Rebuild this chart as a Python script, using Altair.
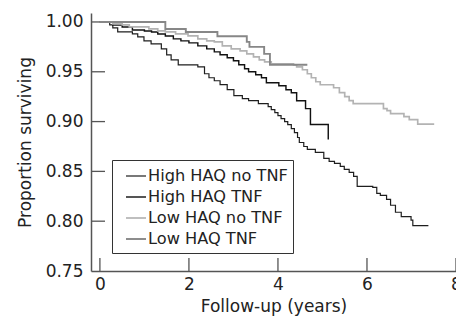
import altair as alt
import pandas as pd

# ---- data (time in years, proportion surviving) ----
groups = ["High HAQ no TNF", "High HAQ TNF", "Low HAQ no TNF", "Low HAQ TNF"]

hi_no_t = [0, 0.22, 0.29, 0.40, 0.73, 0.85, 0.99, 1.15, 1.38, 1.50, 1.60, 1.76, 2.20, 2.35, 2.45,
           2.57, 2.70, 2.86, 3.01, 3.20, 3.34, 3.56, 3.78, 3.85, 3.93, 4.00, 4.07, 4.15, 4.22,
           4.30, 4.37, 4.44, 4.48, 4.58, 4.66, 4.84, 5.03, 5.15, 5.27, 5.40, 5.49, 5.60, 5.70,
           5.78, 6.13, 6.22, 6.30, 6.44, 6.53, 6.64, 6.77, 6.99, 7.03, 7.38]
hi_no_s = [1.0, 0.997, 0.994, 0.990, 0.988, 0.985, 0.981, 0.978, 0.973, 0.967, 0.962, 0.957, 0.955,
           0.948, 0.944, 0.941, 0.937, 0.932, 0.926, 0.923, 0.921, 0.918, 0.915, 0.912, 0.909,
           0.906, 0.903, 0.900, 0.897, 0.893, 0.889, 0.884, 0.879, 0.875, 0.872, 0.869, 0.863,
           0.860, 0.858, 0.855, 0.852, 0.849, 0.845, 0.835, 0.834, 0.828, 0.826, 0.822, 0.816,
           0.809, 0.8045, 0.801, 0.7955, 0.7955]

hi_tnf_t = [0, 0.29, 0.50, 0.73, 1.00, 1.16, 1.30, 1.47, 1.65, 1.82, 2.00, 2.20, 2.40, 2.57, 2.70,
            2.86, 3.00, 3.12, 3.25, 3.34, 3.50, 3.63, 3.74, 4.02, 4.18, 4.30, 4.42, 4.62, 4.73, 5.13]
hi_tnf_s = [1.0, 0.997, 0.995, 0.992, 0.991, 0.990, 0.988, 0.986, 0.983, 0.981, 0.979, 0.976, 0.973,
            0.970, 0.967, 0.964, 0.961, 0.957, 0.953, 0.950, 0.947, 0.944, 0.939, 0.936, 0.932,
            0.929, 0.921, 0.913, 0.897, 0.882]

lo_no_t = [0, 0.29, 0.50, 0.66, 1.10, 1.30, 1.47, 1.70, 1.98, 2.20, 2.40, 2.57, 2.75, 2.95, 3.15,
           3.30, 3.45, 3.58, 3.70, 3.85, 4.35, 4.42, 4.55, 4.66, 4.75, 4.85, 4.95, 5.25, 5.38,
           5.50, 5.60, 5.69, 6.37, 6.45, 6.53, 6.83, 6.95, 7.14, 7.51]
lo_no_s = [1.0, 0.998, 0.997, 0.995, 0.993, 0.991, 0.990, 0.988, 0.986, 0.983, 0.981, 0.980, 0.976,
           0.973, 0.971, 0.968, 0.965, 0.962, 0.960, 0.958, 0.957, 0.955, 0.952, 0.948, 0.944,
           0.940, 0.937, 0.934, 0.929, 0.925, 0.921, 0.918, 0.913, 0.911, 0.908, 0.905, 0.902,
           0.8975, 0.8975]

lo_tnf_t = [0, 1.47, 1.93, 2.64, 3.30, 3.36, 3.69, 3.82, 4.66]
lo_tnf_s = [1.0, 0.993, 0.990, 0.9857, 0.980, 0.975, 0.968, 0.957, 0.957]

colors = ["#1e1e1e", "#111111", "#b3b3b3", "#878787"]
widths = [1.2, 1.9, 1.7, 1.7]

x_ticks = [0, 2, 4, 6, 8]
y_ticks = [0.75, 0.80, 0.85, 0.90, 0.95, 1.00]
y_tick_marks = [0.80, 0.85, 0.90, 0.95, 1.00]

rows = []
for g, ts, ss in zip(groups, [hi_no_t, hi_tnf_t, lo_no_t, lo_tnf_t],
                     [hi_no_s, hi_tnf_s, lo_no_s, lo_tnf_s]):
    for t, s in zip(ts, ss):
        rows.append({"group": g, "t": t, "s": s})
df = pd.DataFrame(rows)

W, H = 365, 258
AX = "#555555"
FONT = "DejaVu Sans"

x_scale = alt.Scale(domain=[-0.2, 8.0], nice=False, zero=False)
y_scale = alt.Scale(domain=[0.75, 1.009], nice=False, zero=False)

x_axis = alt.Axis(values=x_ticks, ticks=False, grid=False, labelFlush=False,
                  labelFontSize=17, labelPadding=5, labelColor="#222",
                  domainColor=AX, domainWidth=1.5,
                  title="Follow-up (years)", titleFontSize=17, titleFontWeight="normal",
                  titlePadding=6, titleColor="#222")
y_axis = alt.Axis(values=y_ticks, format=".2f", ticks=False, grid=False,
                  labelFontSize=17, labelPadding=8, labelColor="#222",
                  domainColor=AX, domainWidth=1.5,
                  title="Proportion surviving", titleFontSize=17, titleFontWeight="normal",
                  titlePadding=11, titleColor="#222")

lines = alt.Chart(df).mark_line(interpolate="step-after").encode(
    x=alt.X("t:Q", scale=x_scale, axis=x_axis),
    y=alt.Y("s:Q", scale=y_scale, axis=y_axis),
    color=alt.Color("group:N", scale=alt.Scale(domain=groups, range=colors),
                    sort=groups,
                    legend=alt.Legend(title=None, orient="none", legendX=21, legendY=147,
                                      symbolType="stroke", symbolSize=400,
                                      symbolStrokeWidth=1.5, symbolOffset=8,
                                      labelFontSize=16.2,
                                      labelColor="#222", labelOffset=1, rowPadding=1,
                                      padding=5, strokeColor="#333", fillColor="white",
                                      cornerRadius=0)),
    strokeWidth=alt.StrokeWidth("group:N", scale=alt.Scale(domain=groups, range=widths),
                                legend=None),
    order=alt.Order("t:Q"),
)

xt = alt.Chart(pd.DataFrame({"t": x_ticks})).mark_rule(color=AX, strokeWidth=1.3).encode(
    x=alt.X("t:Q", scale=x_scale, axis=x_axis),
    y=alt.value(H - 13), y2=alt.value(H),
)
yt = alt.Chart(pd.DataFrame({"s": y_tick_marks})).mark_rule(color=AX, strokeWidth=1.3).encode(
    y=alt.Y("s:Q", scale=y_scale, axis=y_axis),
    x=alt.value(0), x2=alt.value(14),
)

chart = alt.layer(xt, yt, lines).properties(
    width=W, height=H,
    autosize=alt.AutoSizeParams(type="none"),
    padding={"left": 83, "top": 5, "right": 0, "bottom": 47},
).configure(font=FONT).configure_view(stroke=None)

chart.save("out.html", embed_options={"renderer": "svg", "actions": False})
